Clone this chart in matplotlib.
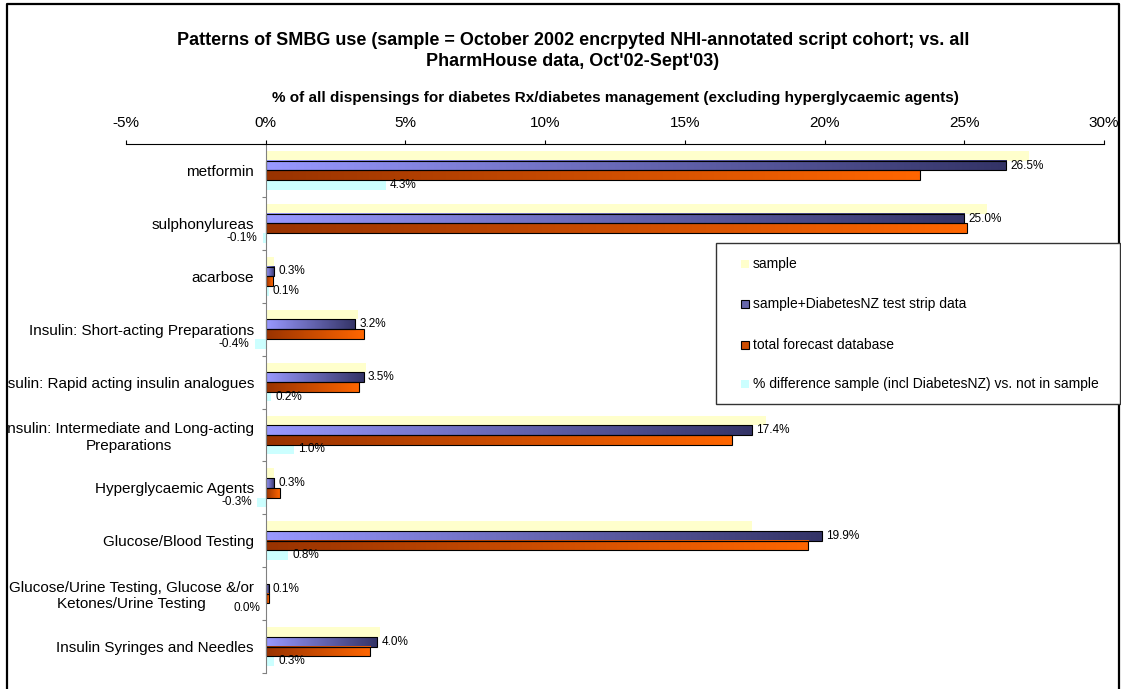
import numpy as np
import matplotlib
matplotlib.use('Agg')
import matplotlib.pyplot as plt
from matplotlib.colors import LinearSegmentedColormap
from matplotlib.patches import Rectangle
from matplotlib.lines import Line2D
from matplotlib.transforms import Bbox, TransformedBbox

plt.rcParams['font.family'] = ['Liberation Sans', 'DejaVu Sans']

categories = ['metformin', 'sulphonylureas', 'acarbose',
              'Insulin: Short-acting Preparations',
              'Insulin: Rapid acting insulin analogues',
              'Insulin: Intermediate and Long-acting\nPreparations',
              'Hyperglycaemic Agents', 'Glucose/Blood Testing',
              'Glucose/Urine Testing, Glucose &/or\nKetones/Urine Testing',
              'Insulin Syringes and Needles']
sample = [27.3, 25.8, 0.3, 3.3, 3.6, 17.9, 0.3, 17.4, 0.05, 4.1]
sample_dnz = [26.5, 25.0, 0.3, 3.2, 3.5, 17.4, 0.3, 19.9, 0.1, 4.0]
forecast = [23.4, 25.1, 0.25, 3.5, 3.35, 16.7, 0.5, 19.4, 0.1, 3.75]
pct_diff = [4.3, -0.1, 0.1, -0.4, 0.2, 1.0, -0.3, 0.8, 0.0, 0.3]
series_names = ['sample', 'sample+DiabetesNZ test strip data',
                'total forecast database',
                '% difference sample (incl DiabetesNZ) vs. not in sample']
xticks = [-5, 0, 5, 10, 15, 20, 25, 30]

W, H = 1121, 689


def px(x, y):
    # pixel position (from top-left) -> figure fraction
    return x / W, 1 - y / H


blue_cmap = LinearSegmentedColormap.from_list('blue', ['#9999ff', '#333366'])
orange_cmap = LinearSegmentedColormap.from_list('orange', ['#993300', '#ff6600'])


def gradient_barh(ax, ypos, widths, height, cmap):
    grad = np.linspace(0, 1, 256).reshape(1, -1)
    for y, w in zip(ypos, widths):
        ax.imshow(grad, cmap=cmap, aspect='auto', interpolation='bilinear',
                  extent=(0, w, y + height / 2, y - height / 2), zorder=1)
    ax.barh(ypos, widths, height=height, facecolor='none',
            edgecolor='black', linewidth=0.8, zorder=2)


fig = plt.figure(figsize=(W / 100, H / 100), dpi=100)
ax = fig.add_axes([126 / W, 16 / H, 978 / W, 529 / H])

y = np.arange(len(categories))
h = 0.183
ax.barh(y - 1.5 * h, sample, height=h, color='#ffffcc', zorder=1)
gradient_barh(ax, y - 0.5 * h, sample_dnz, h, blue_cmap)
gradient_barh(ax, y + 0.5 * h, forecast, h, orange_cmap)
ax.barh(y + 1.5 * h, pct_diff, height=h, color='#ccffff', zorder=1)

for yi, v in zip(y - 0.5 * h, sample_dnz):
    ax.annotate(f'{v:.1f}%', xy=(v, yi), xytext=(3, 0), textcoords='offset points',
                ha='left', va='center', fontsize=8.5)
for yi, v in zip(y + 1.5 * h, pct_diff):
    if v > 0:
        ax.annotate(f'{v:.1f}%', xy=(v, yi), xytext=(3, 0), textcoords='offset points',
                    ha='left', va='center', fontsize=8.5)
    else:
        ax.annotate(f'{v:.1f}%', xy=(v, yi), xytext=(-4, 0), textcoords='offset points',
                    ha='right', va='center', fontsize=8.5)

ax.set_xlim(-5, 30)
ax.set_ylim(len(categories) - 0.5, -0.5)

# percent axis along the top
ax.xaxis.tick_top()
ax.set_xticks(xticks, [f'{t}%' for t in xticks])
ax.tick_params(axis='x', length=3, width=0.8, pad=7, labelsize=11)
ax.xaxis.set_label_position('top')
ax.set_xlabel('% of all dispensings for diabetes Rx/diabetes management '
              '(excluding hyperglycaemic agents)', fontsize=11, fontweight='bold',
              labelpad=10)

# category axis sits on x = 0
for s in ['right', 'bottom']:
    ax.spines[s].set_visible(False)
ax.spines['top'].set_linewidth(0.8)
ax.spines['left'].set_position(('data', 0))
ax.spines['left'].set_color('#808080')
ax.spines['left'].set_linewidth(0.8)
ax.set_yticks(y, categories)
ax.set_yticks(np.arange(-0.5, len(categories), 1), minor=True)
ax.tick_params(axis='y', which='major', length=0, pad=8.5, labelsize=11)
ax.tick_params(axis='y', which='minor', length=3, width=0.8, color='#808080')

clip = TransformedBbox(Bbox.from_extents(8 / W, 0, 1, 1), fig.transFigure)
for lbl in ax.get_yticklabels():
    lbl.set_multialignment('center')
    lbl.set_clip_box(clip)
    lbl.set_clip_on(True)

fig.text(*px(573, 51), "Patterns of SMBG use (sample = October 2002 encrpyted "
         "NHI-annotated script cohort; vs. all\nPharmHouse data, Oct'02-Sept'03)",
         ha='center', va='center', fontsize=13, fontweight='bold', linespacing=1.3)

# legend box
x0, y0 = px(716, 404)
fig.add_artist(Rectangle((x0, y0), (1120 - 716) / W, (404 - 243) / H,
                         transform=fig.transFigure, facecolor='white',
                         edgecolor='#333333', linewidth=1, zorder=3))
swatches = [('#ffffcc', 'none'), ('#6666aa', 'black'), ('#cc4c00', 'black'),
            ('#ccffff', 'none')]
for (fc, ec), name, ly in zip(swatches, series_names, [264, 304, 345, 384]):
    sx, sy = px(741, ly + 4)
    fig.add_artist(Rectangle((sx, sy), 8 / W, 8 / H, transform=fig.transFigure,
                             facecolor=fc, edgecolor=ec, linewidth=0.8, zorder=4))
    fig.text(*px(753, ly), name, ha='left', va='center', fontsize=10, zorder=4)

# outer frame
fx = np.array([7, 7, 1119, 1119]) / W
fy = 1 - np.array([700, 4, 4, 700]) / H
fig.add_artist(Line2D(fx, fy, color='black', linewidth=1.6, transform=fig.transFigure))

fig.savefig('out.png', dpi=100)
